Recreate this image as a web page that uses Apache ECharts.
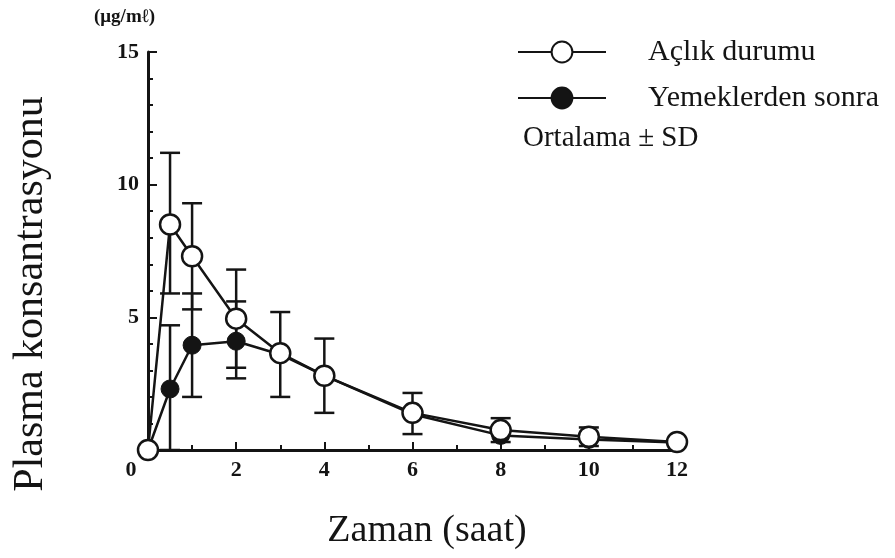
<!DOCTYPE html>
<html>
<head>
<meta charset="utf-8">
<script src="https://cdn.jsdelivr.net/npm/echarts@6/dist/echarts.min.js"></script>
<style>
  html, body { margin: 0; background: #fff; }
  #chart { width: 895px; height: 558px; }
</style>
</head>
<body>
<div id="chart"></div>
<script>
// sampling times (h) and mean concentration (ug/ml)
const hours = [0, 0.5, 1, 2, 3, 4, 6, 8, 10, 12];
const fastingMean = [0, 8.5, 7.3, 4.95, 3.65, 2.8, 1.4, 0.75, 0.5, 0.3];
const fedMean = [0, 2.3, 3.95, 4.1, 3.6, 2.8, 1.35, 0.55, 0.4, 0.28];

const fastingBarHours = [0.5, 1, 2, 3, 4, 6, 8, 10];
const fastingLow = [5.9, 5.3, 3.1, 2.0, 1.4, 0.6, 0.3, 0.15];
const fastingHigh = [11.2, 9.3, 6.8, 5.2, 4.2, 2.15, 1.2, 0.85];
const fedBarHours = [0.5, 1, 2];
const fedLow = [0, 2.0, 2.7];
const fedHigh = [4.7, 5.9, 5.6];

const seriesNames = ['Açlık durumu', 'Yemeklerden sonra'];
const xTickLabels = ['0', '2', '4', '6', '8', '10', '12'];
const yTickLabels = ['5', '10', '15'];

const ink = '#141414';
const serif = 'Liberation Serif';

const chart = echarts.init(document.getElementById('chart'));

function pairs(xs, ys) {
  return xs.map((x, i) => [x, ys[i]]);
}

function errorBar(params, api) {
  const x = api.value(0);
  const lo = api.coord([x, api.value(1)]);
  const hi = api.coord([x, api.value(2)]);
  const w = 10;
  const style = { stroke: ink, lineWidth: 2.5 };
  return {
    type: 'group',
    children: [
      { type: 'line', shape: { x1: lo[0], y1: lo[1], x2: hi[0], y2: hi[1] }, style },
      { type: 'line', shape: { x1: lo[0] - w, y1: lo[1], x2: lo[0] + w, y2: lo[1] }, style },
      { type: 'line', shape: { x1: hi[0] - w, y1: hi[1], x2: hi[0] + w, y2: hi[1] }, style }
    ]
  };
}

const option = {
  backgroundColor: '#fff',
  animation: false,
  grid: { left: 148, right: 218, top: 52, bottom: 108 },
  legend: {
    data: seriesNames,
    orient: 'vertical',
    left: 512,
    top: 32,
    itemWidth: 88,
    itemHeight: 26,
    itemGap: 16,
    textStyle: { fontFamily: serif, fontSize: 30, color: ink, padding: [0, 0, 0, 37] }
  },
  xAxis: {
    type: 'value',
    min: 0,
    max: 12,
    interval: 2,
    axisLine: { lineStyle: { color: ink, width: 3 } },
    axisTick: { inside: true, length: 8, lineStyle: { color: ink, width: 2 } },
    minorTick: { show: true, splitNumber: 2, length: 5, lineStyle: { color: ink, width: 2 } },
    splitLine: { show: false },
    axisLabel: {
      margin: 9,
      fontFamily: serif,
      fontWeight: 'bold',
      fontSize: 22,
      color: ink,
      formatter: v => {
        const s = xTickLabels[Math.round(v / 2)];
        return v === 0 ? '{zero|' + s + '}' : s;
      },
      rich: {
        zero: { fontFamily: serif, fontWeight: 'bold', fontSize: 22, color: ink, padding: [0, 34, 0, 0] }
      }
    }
  },
  yAxis: {
    type: 'value',
    min: 0,
    max: 15,
    interval: 5,
    axisLine: { lineStyle: { color: ink, width: 3 } },
    axisTick: { inside: true, length: 9, lineStyle: { color: ink, width: 2 } },
    minorTick: { show: true, splitNumber: 5, length: 5, lineStyle: { color: ink, width: 2 } },
    splitLine: { show: false },
    axisLabel: {
      margin: 9,
      fontFamily: serif,
      fontWeight: 'bold',
      fontSize: 22,
      color: ink,
      formatter: v => (v === 0 ? '' : yTickLabels[v / 5 - 1])
    }
  },
  graphic: [
    {
      type: 'text', left: 94, top: 8,
      style: { text: '(μg/mℓ)', font: 'bold 19px "Liberation Serif"', fill: ink }
    },
    {
      type: 'text', x: 31, y: 294, rotation: Math.PI / 2,
      style: { text: 'Plasma konsantrasyonu', font: '42px "Liberation Serif"', fill: ink,
               textAlign: 'center', textVerticalAlign: 'middle' }
    },
    {
      type: 'text', x: 427, y: 531,
      style: { text: 'Zaman (saat)', font: '38px "Liberation Serif"', fill: ink,
               textAlign: 'center', textVerticalAlign: 'middle' }
    },
    {
      type: 'text', x: 523, y: 138,
      style: { text: 'Ortalama ± SD', font: '29px "Liberation Serif"', fill: ink,
               textAlign: 'left', textVerticalAlign: 'middle' }
    }
  ],
  series: [
    {
      type: 'custom',
      renderItem: errorBar,
      data: fedBarHours.map((h, i) => [h, fedLow[i], fedHigh[i]]),
      z: 2,
      silent: true
    },
    {
      type: 'custom',
      renderItem: errorBar,
      data: fastingBarHours.map((h, i) => [h, fastingLow[i], fastingHigh[i]]),
      z: 2,
      silent: true
    },
    {
      name: seriesNames[1],
      type: 'line',
      data: pairs(hours, fedMean),
      symbol: 'circle',
      symbolSize: 18,
      lineStyle: { color: ink, width: 2.5 },
      itemStyle: { color: ink, borderColor: ink, borderWidth: 1 },
      z: 3
    },
    {
      name: seriesNames[0],
      type: 'line',
      data: pairs(hours, fastingMean),
      symbol: 'circle',
      symbolSize: 20,
      lineStyle: { color: ink, width: 2.5 },
      itemStyle: { color: '#fff', borderColor: ink, borderWidth: 2.5 },
      z: 4
    }
  ]
};

chart.setOption(option);
</script>
</body>
</html>
